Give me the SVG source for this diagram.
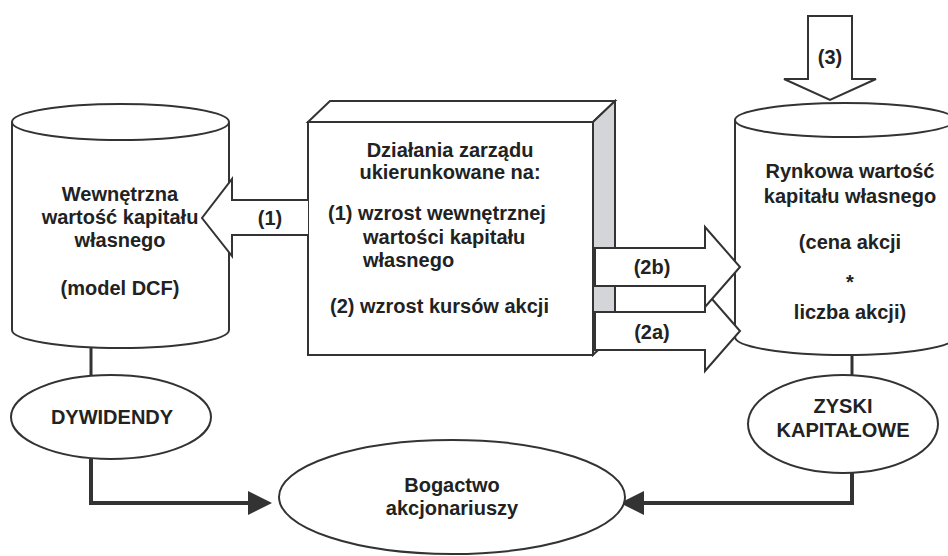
<svg xmlns="http://www.w3.org/2000/svg" width="948" height="556" viewBox="0 0 948 556">
<style>
.s{stroke:#333;stroke-width:2;fill:#fff}
.t{font-family:"Liberation Sans",Arial,sans-serif;font-weight:bold;font-size:20px;fill:#222}
.m{text-anchor:middle}
.c{stroke:#333;stroke-width:4;fill:none}
.v{stroke:#333;stroke-width:3;fill:none}
</style>
<defs>
<marker id="ah" viewBox="0 0 24 24" refX="20" refY="12" markerWidth="24" markerHeight="24" markerUnits="userSpaceOnUse" orient="auto">
<path d="M0,0 L24,12 L0,24 z" fill="#333"/>
</marker>
</defs>
<rect width="948" height="556" fill="#fff"/>

<g id="connectors">
<line class="v" x1="91" y1="348" x2="91" y2="376"/>
<line class="v" x1="852" y1="355" x2="852" y2="376"/>
<path class="c" d="M91,459 L91,503 L268,503" marker-end="url(#ah)"/>
<path class="c" d="M852,472 L852,503 L624,503" marker-end="url(#ah)"/>
</g>

<g id="wewnetrzna">
<path class="s" d="M12,122 L12,330 A108.5,18 0 0 0 229,330 L229,122"/>
<ellipse class="s" cx="120.5" cy="122" rx="108.5" ry="18"/>
<text class="t m" x="120" y="201">Wewnętrzna</text>
<text class="t m" x="120" y="224">wartość kapitału</text>
<text class="t m" x="120" y="247">własnego</text>
<text class="t m" x="120" y="295">(model DCF)</text>
</g>

<g id="rynkowa">
<path class="s" d="M735,120 L735,337 A110,18 0 0 0 955,337 L955,120"/>
<ellipse class="s" cx="845" cy="120" rx="110" ry="17"/>
<text class="t m" x="850" y="178">Rynkowa wartość</text>
<text class="t m" x="850" y="203">kapitału własnego</text>
<text class="t m" x="850" y="249">(cena akcji</text>
<text class="t m" x="850" y="289">*</text>
<text class="t m" x="850" y="319">liczba akcji)</text>
</g>

<g id="dzialania">
<polygon class="s" points="308,122 330,101 615,101 593,122"/>
<polygon points="593,122 615,101 615,334 593,355" fill="#d4d5d8" stroke="#333" stroke-width="2"/>
<rect class="s" x="308" y="122" width="285" height="233"/>
<text class="t m" x="450" y="157">Działania zarządu</text>
<text class="t m" x="450" y="179">ukierunkowane na:</text>
<text class="t" x="328" y="220">(1) wzrost wewnętrznej</text>
<text class="t" x="363" y="244">wartości kapitału</text>
<text class="t" x="363" y="267">własnego</text>
<text class="t" x="330" y="313">(2) wzrost kursów akcji</text>
</g>

<g id="arrow1">
<polyline class="s" points="308,200 232,200 232,179 202,218 232,256 232,235 308,235"/>
<text class="t m" x="270" y="225">(1)</text>
</g>

<g id="arrow2a">
<polygon class="s" points="595,312 705,312 705,291 740,331 705,371 705,350 595,350"/>
<text class="t m" x="652" y="339">(2a)</text>
</g>

<g id="arrow2b">
<polygon class="s" points="595,248 705,248 705,227 740,267 705,307 705,286 595,286"/>
<text class="t m" x="652" y="274">(2b)</text>
</g>

<g id="arrow3">
<polygon class="s" points="808,16 852,16 852,79 876,79 830,100 784,79 808,79"/>
<text class="t m" x="830" y="64">(3)</text>
</g>

<g id="dywidendy">
<ellipse class="s" cx="111" cy="417" rx="100" ry="42"/>
<text class="t m" x="112" y="424" font-size="19">DYWIDENDY</text>
</g>

<g id="zyski">
<ellipse class="s" cx="843" cy="424" rx="95" ry="49"/>
<text class="t m" x="843" y="413">ZYSKI</text>
<text class="t m" x="843" y="437">KAPITAŁOWE</text>
</g>

<g id="bogactwo">
<ellipse class="s" cx="452" cy="497" rx="173" ry="57"/>
<text class="t m" x="452" y="492">Bogactwo</text>
<text class="t m" x="452" y="515">akcjonariuszy</text>
</g>
</svg>
